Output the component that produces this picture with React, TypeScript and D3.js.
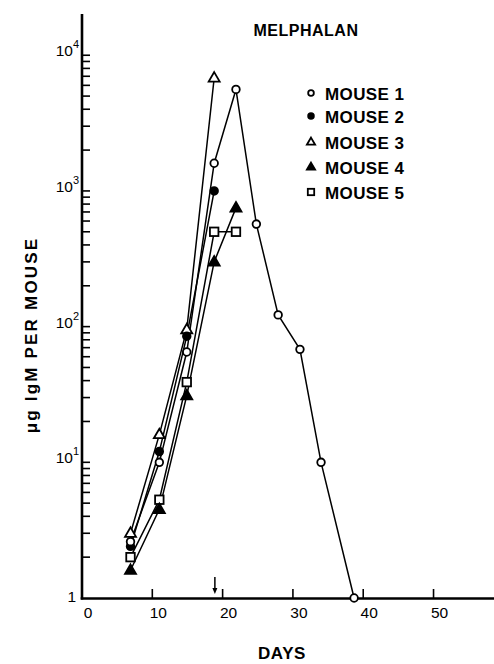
import { useEffect, useRef } from "react";
import * as d3 from "d3";

const days1 = [6.9, 11, 14.9, 18.8, 21.9, 24.8, 27.9, 31, 34, 38.7];
const mouse1 = [2.6, 10, 65, 1600, 5600, 570, 122, 68, 10, 1];
const days2 = [6.9, 11, 14.9, 18.8];
const mouse2 = [2.4, 12, 85, 1000];
const days3 = [6.9, 11, 14.9, 18.8];
const mouse3 = [3.0, 16, 95, 6800];
const days4 = [6.9, 11, 14.9, 18.8, 21.9];
const mouse4 = [1.6, 4.5, 31, 300, 750];
const days5 = [6.9, 11, 14.9, 18.8, 21.9];
const mouse5 = [2.0, 5.3, 39, 500, 500];

const seriesNames = ["MOUSE 1", "MOUSE 2", "MOUSE 3", "MOUSE 4", "MOUSE 5"];
const xTicks = [10, 20, 30, 40, 50];
const yDecades = [10, 100, 1000, 10000];
const yExponents = ["1", "2", "3", "4"];
const arrowDay = 18.9;

const font = "'Liberation Sans', Arial, sans-serif";

const App = () => {
  const ref = useRef(null);

  useEffect(() => {
    const svg = d3.select(ref.current);
    svg.selectAll("*").remove();

    const x = d3.scaleLinear().domain([0, 58.6]).range([82, 494]);
    const y = d3.scaleLog().domain([1, 20000]).range([598, 14.4]);

    const series = [
      { days: days1, vals: mouse1, shape: "circle", filled: false },
      { days: days2, vals: mouse2, shape: "circle", filled: true },
      { days: days3, vals: mouse3, shape: "triangle", filled: false },
      { days: days4, vals: mouse4, shape: "triangle", filled: true },
      { days: days5, vals: mouse5, shape: "square", filled: false },
    ];

    const marker = (g, shape, filled, cx, cy, s) => {
      let m;
      if (shape === "circle") {
        m = g.append("circle").attr("cx", cx).attr("cy", cy).attr("r", 3.8 * s);
      } else if (shape === "triangle") {
        const h = 9.5 * s, w = 11 * s;
        m = g.append("path").attr("d",
          `M${cx},${cy - h * 0.62}L${cx + w / 2},${cy + h * 0.38}L${cx - w / 2},${cy + h * 0.38}Z`);
      } else {
        const a = 8.5 * s;
        m = g.append("rect").attr("x", cx - a / 2).attr("y", cy - a / 2).attr("width", a).attr("height", a);
      }
      m.attr("fill", filled ? "#000" : "#fff").attr("stroke", "#000").attr("stroke-width", 1.8);
    };

    // axes
    svg.append("line").attr("x1", 82).attr("x2", 82).attr("y1", 14).attr("y2", 599.5)
      .attr("stroke", "#000").attr("stroke-width", 2.6);
    svg.append("line").attr("x1", 80.7).attr("x2", 494).attr("y1", 598.5).attr("y2", 598.5)
      .attr("stroke", "#000").attr("stroke-width", 2.6);

    const yTicks = y.ticks().filter(d => d <= 10000 && d > 1);
    svg.append("g").selectAll("line").data(yTicks).join("line")
      .attr("x1", 82).attr("x2", 90)
      .attr("y1", d => y(d)).attr("y2", d => y(d))
      .attr("stroke", "#000").attr("stroke-width", 1.6);

    svg.append("g").selectAll("line").data(xTicks).join("line")
      .attr("x1", d => x(d)).attr("x2", d => x(d))
      .attr("y1", 598).attr("y2", 589)
      .attr("stroke", "#000").attr("stroke-width", 1.6);

    const xl = svg.append("g").attr("font-family", font).attr("font-size", 15.5)
      .attr("text-anchor", "middle");
    xl.selectAll("text").data([0, ...xTicks]).join("text")
      .attr("x", d => x(d) + 6).attr("y", 618).text(d => d);

    const yl = svg.append("g").attr("font-family", font).attr("font-size", 15.5)
      .attr("text-anchor", "end");
    yDecades.forEach((d, i) => {
      const t = yl.append("text").attr("x", 79).attr("y", y(d) + 1);
      t.append("tspan").text("10");
      t.append("tspan").attr("dy", -8).attr("font-size", 11).text(yExponents[i]);
    });
    yl.append("text").attr("x", 76).attr("y", 602).text("1");

    // arrow at the melphalan day
    svg.append("line").attr("x1", x(arrowDay)).attr("x2", x(arrowDay))
      .attr("y1", 577).attr("y2", 590).attr("stroke", "#000").attr("stroke-width", 1.5);
    svg.append("path")
      .attr("d", `M${x(arrowDay) - 2.5},${588}L${x(arrowDay) + 2.5},${588}L${x(arrowDay)},${594}Z`)
      .attr("fill", "#000");

    const line = d3.line().x(d => x(d[0])).y(d => y(d[1]));
    const lines = svg.append("g");
    series.forEach(s => {
      lines.append("path").datum(s.days.map((d, i) => [d, s.vals[i]]))
        .attr("fill", "none").attr("stroke", "#000").attr("stroke-width", 1.5)
        .attr("d", line);
    });
    const marks = svg.append("g");
    series.slice().reverse().forEach(s => {
      s.days.forEach((d, i) => marker(marks, s.shape, s.filled, x(d), y(s.vals[i]), 1));
    });

    // legend
    const lg = svg.append("g").attr("font-family", font).attr("font-size", 17)
      .attr("font-weight", "bold");
    const rowY = [93, 116, 142, 167, 192];
    series.forEach((s, i) => {
      marker(lg, s.shape, s.filled, 311, rowY[i], 0.75);
      lg.append("text").attr("x", 325).attr("y", rowY[i] + 6.5).attr("letter-spacing", 0.4)
        .text(seriesNames[i]);
    });

    svg.append("text").attr("x", 306).attr("y", 36).attr("text-anchor", "middle")
      .attr("font-family", font).attr("font-size", 16).attr("font-weight", "bold")
      .attr("letter-spacing", 0.5).text("MELPHALAN");

    svg.append("text").attr("x", 282).attr("y", 659).attr("text-anchor", "middle")
      .attr("font-family", font).attr("font-size", 17).attr("font-weight", "bold")
      .attr("letter-spacing", 0.6).text("DAYS");

    svg.append("text").attr("transform", "translate(37,335) rotate(-90)")
      .attr("text-anchor", "middle")
      .attr("font-family", font).attr("font-size", 17).attr("font-weight", "bold")
      .attr("letter-spacing", 2.2).text("μg IgM PER MOUSE");
  }, []);

  return (
    <svg ref={ref} width={494} height={664}
      style={{ position: "absolute", left: 0, top: 0, background: "#fff" }} />
  );
};

export default App;
